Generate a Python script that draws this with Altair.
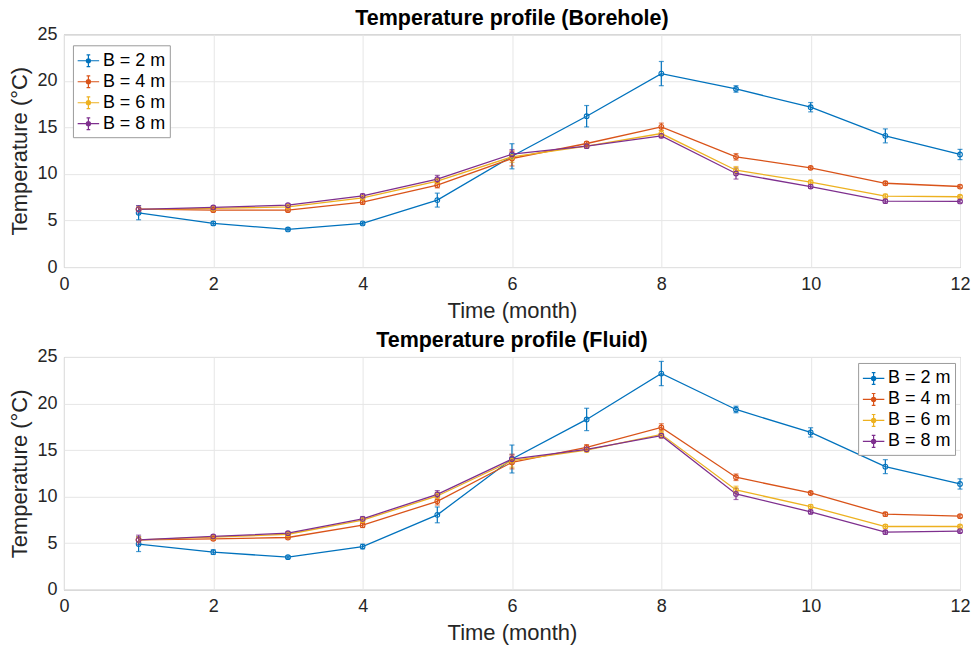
import altair as alt
import pandas as pd

months = list(range(1, 13))
series = ["B = 2 m", "B = 4 m", "B = 6 m", "B = 8 m"]
colors = ["#0072BD", "#D95319", "#EDB120", "#7E2F8E"]
x_ticks = [0, 2, 4, 6, 8, 10, 12]
y_ticks = [0, 5, 10, 15, 20, 25]

# Borehole temperatures
bh_b2 = [5.83, 4.69, 4.04, 4.69, 7.19, 11.9, 16.2, 20.78, 19.13, 17.17, 14.09, 12.09]
bh_b4 = [6.22, 6.11, 6.11, 6.97, 8.8, 11.66, 13.27, 15.06, 11.84, 10.66, 9.0, 8.65]
bh_b6 = [6.2, 6.3, 6.47, 7.44, 9.23, 11.84, 13.0, 14.34, 10.4, 9.12, 7.62, 7.55]
bh_b8 = [6.2, 6.4, 6.65, 7.65, 9.44, 12.12, 12.98, 14.09, 10.05, 8.65, 7.08, 7.05]
bh_e2 = [0.75, 0.2, 0.15, 0.15, 0.75, 1.35, 1.15, 1.3, 0.35, 0.5, 0.75, 0.55]
bh_e4 = [0.2, 0.15, 0.15, 0.2, 0.3, 0.8, 0.2, 0.4, 0.35, 0.15, 0.2, 0.15]
bh_e6 = [0.2, 0.15, 0.15, 0.2, 0.3, 0.6, 0.2, 0.35, 0.4, 0.2, 0.2, 0.15]
bh_e8 = [0.4, 0.15, 0.15, 0.2, 0.4, 0.5, 0.2, 0.2, 0.6, 0.2, 0.2, 0.15]

# Fluid temperatures
fl_b2 = [4.9, 4.04, 3.5, 4.64, 8.04, 14.04, 18.29, 23.22, 19.36, 16.9, 13.22, 11.36]
fl_b4 = [5.36, 5.47, 5.61, 6.93, 9.5, 13.68, 15.29, 17.43, 12.08, 10.39, 8.11, 7.9]
fl_b6 = [5.36, 5.64, 5.96, 7.47, 10.07, 13.86, 15.0, 16.69, 10.72, 8.93, 6.79, 6.79]
fl_b8 = [5.36, 5.72, 6.07, 7.61, 10.25, 14.04, 15.08, 16.54, 10.29, 8.36, 6.18, 6.29]
fl_e2 = [0.8, 0.25, 0.15, 0.25, 0.85, 1.5, 1.2, 1.3, 0.35, 0.5, 0.75, 0.55]
fl_e4 = [0.3, 0.15, 0.15, 0.25, 0.4, 0.7, 0.3, 0.4, 0.35, 0.15, 0.2, 0.15]
fl_e6 = [0.3, 0.15, 0.15, 0.25, 0.4, 0.7, 0.2, 0.4, 0.4, 0.2, 0.2, 0.15]
fl_e8 = [0.5, 0.15, 0.15, 0.25, 0.4, 0.5, 0.2, 0.2, 0.6, 0.2, 0.2, 0.15]


def build(vals, errs):
    rows = []
    for s, v, e in zip(series, vals, errs):
        for m, t, d in zip(months, v, e):
            rows.append({"month": m, "temp": t, "lo": t - d, "hi": t + d, "series": s})
    return pd.DataFrame(rows)


SYMBOL = ("M-1,0H1 M0,-0.55V0.55 M-0.17,-0.55H0.17 M-0.17,0.55H0.17 "
          "M-0.19,0 A0.19,0.19 0 1,0 0.19,0 A0.19,0.19 0 1,0 -0.19,0")


def panel(df, title, lx, ly):
    color = alt.Color(
        "series:N",
        scale=alt.Scale(domain=series, range=colors),
        legend=alt.Legend(
            title=None, orient="none", legendX=lx, legendY=ly,
            fillColor="white", strokeColor="#9b9b9b", padding=4,
            labelFontSize=18, labelColor="black", labelOffset=3,
            rowPadding=0, symbolType=SYMBOL, symbolSize=462,
            symbolStrokeWidth=1.2, symbolFillColor="transparent",
            symbolOpacity=1,
        ),
    )
    xs = alt.Scale(domain=[0, 12], nice=False, zero=False)
    ys = alt.Scale(domain=[0, 25], nice=False)
    xa = alt.Axis(values=x_ticks, title="Time (month)", labelFlush=False)
    ya = alt.Axis(values=y_ticks, title="Temperature (°C)")
    base = alt.Chart(df)
    err = base.mark_errorbar(ticks=True, thickness=1.2).encode(
        x=alt.X("month:Q", scale=xs, axis=xa),
        y=alt.Y("lo:Q", scale=ys, axis=ya),
        y2="hi:Q",
        color=color,
    )
    line = base.mark_line(strokeWidth=1.3).encode(
        x=alt.X("month:Q", scale=xs, axis=xa),
        y=alt.Y("temp:Q", scale=ys, axis=ya),
        color=color,
    )
    pts = base.mark_point(filled=False, size=22, strokeWidth=1.1, opacity=1).encode(
        x=alt.X("month:Q", scale=xs, axis=xa),
        y=alt.Y("temp:Q", scale=ys, axis=ya),
        color=color,
    )
    return alt.layer(err, line, pts).properties(
        width=897, height=233,
        title=alt.TitleParams(title, fontSize=21.5, fontWeight="bold", color="black", offset=-4),
    )


top = panel(build([bh_b2, bh_b4, bh_b6, bh_b8], [bh_e2, bh_e4, bh_e6, bh_e8]),
            "Temperature profile (Borehole)", 9, 11)
bottom = panel(build([fl_b2, fl_b4, fl_b6, fl_b8], [fl_e2, fl_e4, fl_e6, fl_e8]),
               "Temperature profile (Fluid)", 795, 6)

chart = (
    alt.vconcat(top, bottom, spacing=8)
    .resolve_scale(color="independent")
    .resolve_legend(color="independent")
    .properties(padding={"left": 8, "top": 7, "right": 0, "bottom": 0}, background="white")
    .configure(font="Liberation Sans")
    .configure_view(stroke="#9b9b9b", strokeWidth=1)
    .configure_axis(
        labelFontSize=18, titleFontSize=22, titleFontWeight="normal",
        labelColor="#262626", titleColor="#262626",
        gridColor="#e6e6e6", domain=False, tickSize=0,
        labelPadding=8, titlePadding=7,
    )
    .configure_axisY(labelPadding=7, titlePadding=5)
)

chart.save("out.html", embed_options={"renderer": "svg", "actions": False})
